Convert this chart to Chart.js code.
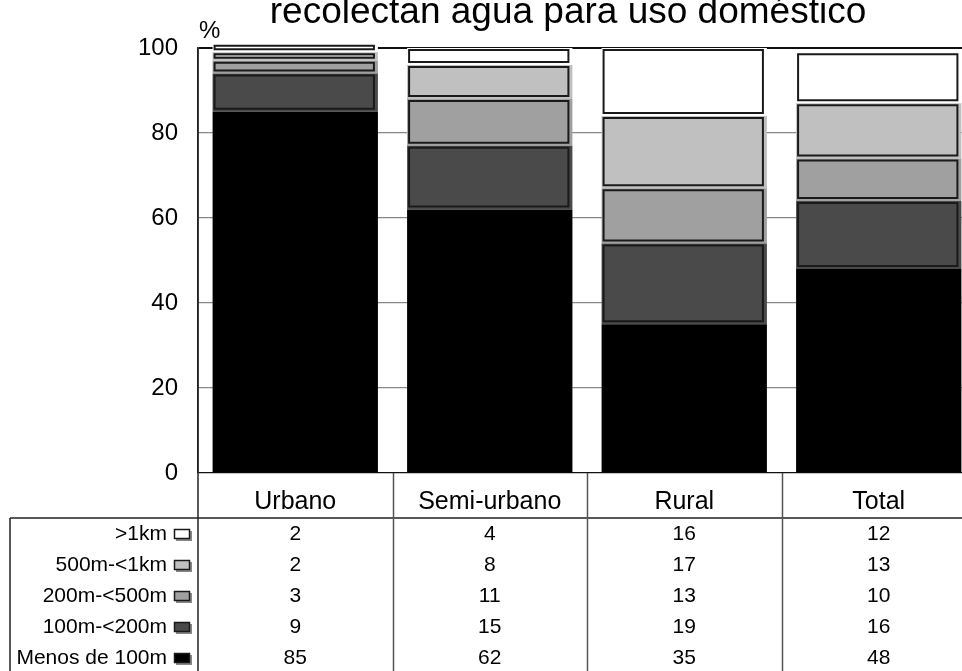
<!DOCTYPE html>
<html>
<head>
<meta charset="utf-8">
<script src="https://cdn.jsdelivr.net/npm/chart.js@4/dist/chart.umd.min.js"></script>
<style>
	html, body { margin: 0; padding: 0; background: #fff; overflow: hidden; }
	#wrap { width: 976px; height: 671px; }
</style>
</head>
<body>
<div id="wrap"><canvas id="waterChart" width="976" height="671"></canvas></div>
<script>
// Data
var categories = ['Urbano', 'Semi-urbano', 'Rural', 'Total'];
var menos100m = [85, 62, 35, 48];
var m100a200 = [9, 15, 19, 16];
var m200a500 = [3, 11, 13, 10];
var m500a1km = [2, 8, 17, 13];
var mas1km = [2, 4, 16, 12];
var yTicks = [0, 20, 40, 60, 80, 100];

var titleText = 'recolectan agua para uso doméstico';
var fontName = '"Liberation Sans", Arial, sans-serif';

// Stacking order, bottom first
var series = [
	{ label: 'Menos de 100m', data: menos100m, color: '#000000' },
	{ label: '100m-<200m', data: m100a200, color: '#4a4a4a' },
	{ label: '200m-<500m', data: m200a500, color: '#a0a0a0' },
	{ label: '500m-<1km', data: m500a1km, color: '#c0c0c0' },
	{ label: '>1km', data: mas1km, color: '#ffffff' }
];

// Outline every segment except the black base, slightly inset
var segmentOutline = {
	id: 'segmentOutline',
	afterDatasetsDraw: function(chart) {
		var ctx = chart.ctx;
		ctx.save();
		ctx.strokeStyle = '#1a1a1a';
		ctx.lineWidth = 2;
		for(var i = 1; i < chart.data.datasets.length; i++) {
			var meta = chart.getDatasetMeta(i);
			meta.data.forEach(function(bar) {
				var p = bar.getProps(['x', 'y', 'base', 'width'], true);
				var left = p.x - p.width / 2;
				var top = Math.min(p.y, p.base);
				var bottom = Math.max(p.y, p.base);
				ctx.strokeRect(left + 2, top + 2, p.width - 6, bottom - top - 5);
			});
		}
		ctx.restore();
	}
};

// Title (cut at the top edge), % label and the data table below the plot
var tableAndLabels = {
	id: 'tableAndLabels',
	afterDraw: function(chart) {
		var ctx = chart.ctx;
		var area = chart.chartArea;
		var xs = chart.scales.x;
		var headY = 518;
		var rowH = 31;
		var firstRow = 534;

		ctx.save();
		ctx.fillStyle = '#000';
		ctx.textAlign = 'center';
		ctx.textBaseline = 'alphabetic';
		ctx.font = '37px ' + fontName;
		ctx.fillText(titleText, 568, 23);

		ctx.textAlign = 'left';
		ctx.font = '24px ' + fontName;
		ctx.fillText('%', 199, 38);

		// table lines
		ctx.strokeStyle = '#222';
		ctx.lineWidth = 1.5;
		ctx.beginPath();
		ctx.moveTo(10, headY);
		ctx.lineTo(chart.width, headY);
		ctx.moveTo(10, headY);
		ctx.lineTo(10, chart.height);
		ctx.moveTo(area.left, area.top);
		ctx.lineTo(area.left, chart.height);
		ctx.stroke();

		ctx.strokeStyle = '#555';
		ctx.beginPath();
		for(var i = 0; i < categories.length - 1; i++) {
			var edge = Math.round((xs.getPixelForValue(i) + xs.getPixelForValue(i + 1)) / 2) + 0.5;
			ctx.moveTo(edge, area.bottom);
			ctx.lineTo(edge, chart.height);
		}
		ctx.stroke();

		// header row
		ctx.textAlign = 'center';
		ctx.textBaseline = 'middle';
		ctx.font = '25px ' + fontName;
		for(var i = 0; i < categories.length; i++) {
			ctx.fillText(categories[i], xs.getPixelForValue(i), 502);
		}

		// value rows, top row is the top of the stack
		ctx.font = '21px ' + fontName;
		for(var r = 0; r < series.length; r++) {
			var s = series[series.length - 1 - r];
			var y = firstRow + r * rowH;

			ctx.textAlign = 'right';
			ctx.fillStyle = '#000';
			ctx.fillText(s.label, 167, y);

			// legend key
			ctx.fillStyle = '#888';
			ctx.fillRect(176, y - 3, 16, 10);
			ctx.fillStyle = s.color;
			ctx.fillRect(174, y - 5, 16, 10);
			ctx.strokeStyle = '#1a1a1a';
			ctx.lineWidth = 1.5;
			ctx.strokeRect(174.5, y - 4.5, 15, 9);

			ctx.textAlign = 'center';
			ctx.fillStyle = '#000';
			for(var c = 0; c < categories.length; c++) {
				ctx.fillText(String(s.data[c]), xs.getPixelForValue(c), y);
			}
		}
		ctx.restore();
	}
};

function initChart() {
	var context = document.getElementById('waterChart').getContext('2d');

	var datasets = series.map(function(s) {
		return {
			label: s.label,
			data: s.data,
			backgroundColor: s.color,
			borderWidth: 0,
			barPercentage: 0.85,
			categoryPercentage: 1,
			clip: false
		};
	});

	var config = {
		type: 'bar',
		data: {
			labels: categories,
			datasets: datasets
		},
		options: {
			responsive: false,
			devicePixelRatio: 1,
			animation: false,
			layout: {
				padding: { top: 48, bottom: 198, left: 0, right: 0 }
			},
			plugins: {
				legend: { display: false },
				tooltip: { enabled: false },
				title: { display: false }
			},
			scales: {
				x: {
					stacked: true,
					ticks: { display: false },
					grid: { display: false, drawTicks: false },
					border: { display: false }
				},
				y: {
					stacked: true,
					min: 0,
					max: 100,
					afterBuildTicks: function(scale) {
						scale.ticks = yTicks.map(function(v) { return { value: v }; });
					},
					afterFit: function(scale) {
						scale.width = 198;
					},
					ticks: {
						color: '#000',
						padding: 20,
						font: { family: fontName, size: 24 }
					},
					grid: {
						drawTicks: false,
						color: function(c) {
							if(c.tick.value === 0 || c.tick.value === 100) {
								return '#111';
							}
							return '#888';
						},
						lineWidth: function(c) {
							return c.tick.value === 100 ? 2 : 1.2;
						}
					},
					border: { display: true, color: '#222', width: 1.5 }
				}
			}
		},
		plugins: [segmentOutline, tableAndLabels]
	};

	new Chart(context, config);
}

initChart();
</script>
</body>
</html>
